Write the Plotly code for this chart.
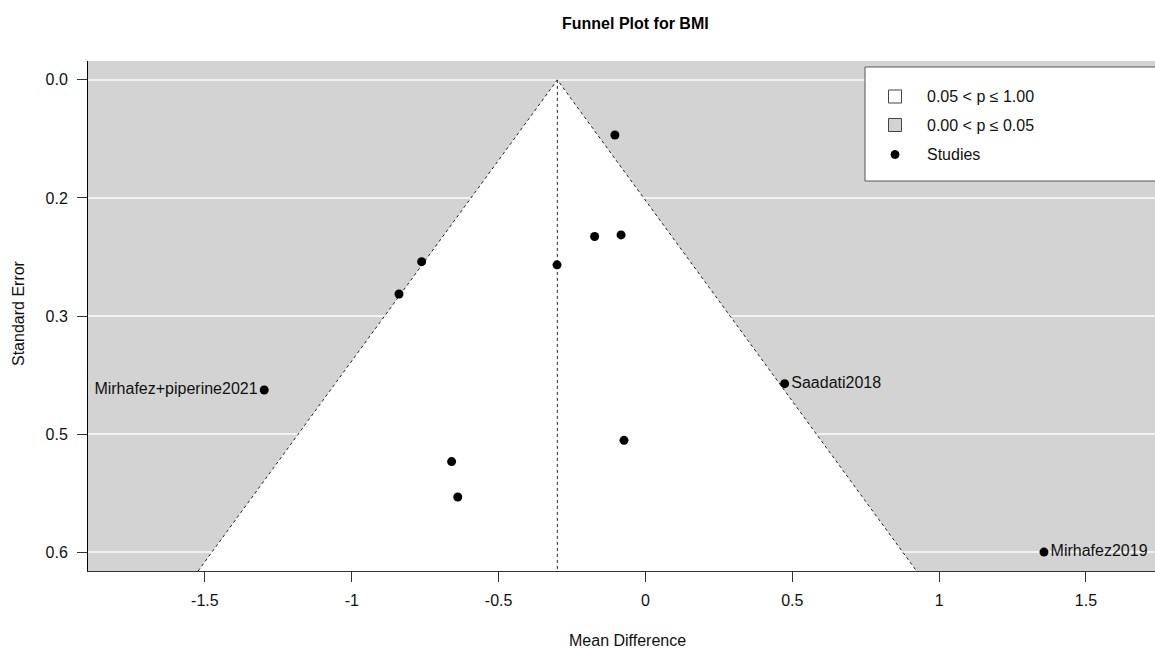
import plotly.graph_objects as go

# Study effect sizes (mean difference) and their standard errors
mean_diff = [-0.104, -0.173, -0.083, -0.301, -0.762, -0.839, -1.298, 0.474, -0.073, -0.660, -0.639, 1.357]
std_err = [0.070, 0.199, 0.197, 0.235, 0.231, 0.272, 0.394, 0.386, 0.458, 0.485, 0.530, 0.600]
study_labels = ["", "", "", "", "", "", "Mirhafez+piperine2021", "Saadati2018", "", "", "", "Mirhafez2019"]
label_side = ["middle right"] * 6 + ["middle left", "middle right"] + ["middle right"] * 3 + ["middle right"]

pooled_estimate = -0.30
z_crit = 1.96

y_tick_vals = [0.0, 0.15, 0.30, 0.45, 0.60]
y_tick_text = ["0.0", "0.2", "0.3", "0.5", "0.6"]
x_tick_vals = [-1.5, -1.0, -0.5, 0.0, 0.5, 1.0, 1.5]
x_tick_text = ["-1.5", "-1", "-0.5", "0", "0.5", "1", "1.5"]

FONT = "Liberation Sans, Arial, Helvetica, sans-serif"
W, H = 1155, 648
L, R, T, B = 88, 0, 61, 77

se_max = max(std_err)
se_bottom = se_max * 1.04
se_top = -se_max * 0.04
x_lo = -1.898
x_hi = 1.735

# funnel region (pseudo confidence limits around the pooled estimate)
fx = [pooled_estimate - z_crit * se_bottom, pooled_estimate, pooled_estimate + z_crit * se_bottom]
fy = [se_bottom, 0.0, se_bottom]

fig = go.Figure()
fig.add_trace(go.Scatter(x=fx + [fx[0]], y=fy + [fy[0]], mode="lines", fill="toself",
                         fillcolor="white", line=dict(width=0), hoverinfo="skip", showlegend=False))
fig.add_trace(go.Scatter(x=fx, y=fy, mode="lines", line=dict(color="#222", width=1, dash="dot"),
                         hoverinfo="skip", showlegend=False))
fig.add_trace(go.Scatter(x=[pooled_estimate, pooled_estimate], y=[0.0, se_bottom], mode="lines",
                         line=dict(color="#222", width=1, dash="dot"), hoverinfo="skip", showlegend=False))
fig.add_trace(go.Scatter(x=mean_diff, y=std_err, mode="markers+text", text=study_labels,
                         textposition=label_side, textfont=dict(family=FONT, size=16, color="#111"),
                         marker=dict(color="black", size=9), showlegend=False))


def px(x):
    return (x - L) / (W - L - R)


def py(y):
    return (H - B - y) / (H - B - T)


shapes = []
# legend box
shapes.append(dict(type="rect", xref="paper", yref="paper", x0=px(865), x1=px(1160), y0=py(181), y1=py(67),
                   line=dict(color="#555", width=1), fillcolor="white", layer="above"))
shapes.append(dict(type="rect", xref="paper", yref="paper", x0=px(888.5), x1=px(901.5), y0=py(103), y1=py(90),
                   line=dict(color="#444", width=1), fillcolor="white", layer="above"))
shapes.append(dict(type="rect", xref="paper", yref="paper", x0=px(888.5), x1=px(901.5), y0=py(131.5), y1=py(118.5),
                   line=dict(color="#444", width=1), fillcolor="#d3d3d3", layer="above"))
shapes.append(dict(type="circle", xref="paper", yref="paper", x0=px(891), x1=px(899), y0=py(158.5), y1=py(150.5),
                   line=dict(color="black", width=1), fillcolor="black", layer="above"))

annotations = []
for txt, yy in [("0.05 < p ≤ 1.00", 96.5), ("0.00 < p ≤ 0.05", 125), ("Studies", 154.5)]:
    annotations.append(dict(text=txt, xref="paper", yref="paper", x=px(925), y=py(yy), xanchor="left",
                            yanchor="middle", showarrow=False, font=dict(family=FONT, size=16, color="#111")))
annotations.append(dict(text="<b>Funnel Plot for BMI</b>", xref="paper", yref="paper", x=px(635), y=py(23),
                        xanchor="center", yanchor="middle", showarrow=False,
                        font=dict(family=FONT, size=16, color="black")))
annotations.append(dict(text="Mean Difference", xref="paper", yref="paper", x=px(627), y=py(640),
                        xanchor="center", yanchor="middle", showarrow=False,
                        font=dict(family=FONT, size=16, color="#111")))
annotations.append(dict(text="Standard Error", xref="paper", yref="paper", x=px(18), y=py(313),
                        xanchor="center", yanchor="middle", textangle=-90, showarrow=False,
                        font=dict(family=FONT, size=16, color="#111")))

fig.update_layout(
    width=W, height=H,
    margin=dict(l=L, r=R, t=T, b=B, pad=0),
    paper_bgcolor="white",
    plot_bgcolor="#d3d3d3",
    shapes=shapes,
    annotations=annotations,
    font=dict(family=FONT, size=16, color="#111"),
    xaxis=dict(range=[x_lo, x_hi], tickvals=x_tick_vals, ticktext=x_tick_text, showgrid=False,
               zeroline=False, showline=True, linecolor="#333", linewidth=1, ticks="outside",
               ticklen=10, tickcolor="#333", ticklabelstandoff=5,
               tickfont=dict(family=FONT, size=16, color="#111")),
    yaxis=dict(range=[se_bottom, se_top], tickvals=y_tick_vals, ticktext=y_tick_text, showgrid=True,
               gridcolor="#f2f2f2", gridwidth=1.5, zeroline=False, showline=True, linecolor="black",
               linewidth=1, ticks="outside", ticklen=10, tickcolor="#333", ticklabelstandoff=6,
               tickfont=dict(family=FONT, size=16, color="#111")),
)

fig.write_html("out.html")
